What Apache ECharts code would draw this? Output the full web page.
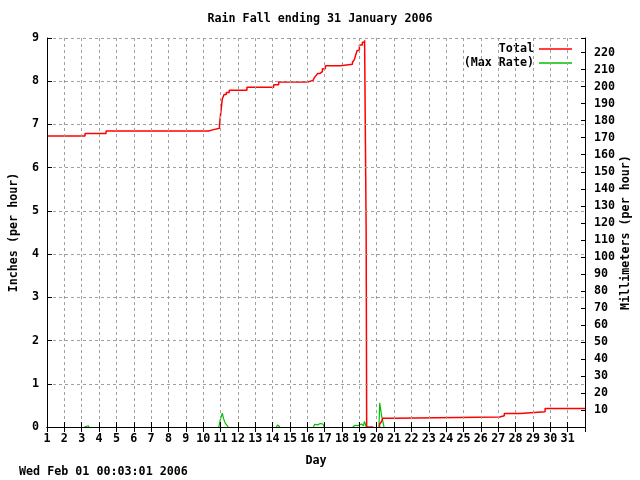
<!DOCTYPE html>
<html>
<head>
<meta charset="utf-8">
<script src="https://cdn.jsdelivr.net/npm/echarts@6/dist/echarts.min.js"></script>
<style>html,body{margin:0;padding:0;background:#fff}#c{width:640px;height:480px}</style>
</head>
<body>
<div id="c"></div>
<script>
// Rain total (inches), step changes at given day; null = gap (zero, hidden under axis)
const totalDays = [1, 3.19, 4.4, 10.31, 10.6, 10.94, 10.98, 11.05, 11.1, 11.2, 11.33, 11.5, 12.52, 14.06, 14.35, 16.02, 16.33, 16.4, 16.5, 16.6, 16.73, 16.87, 17.04, 17.9, 18.6, 18.71, 18.79, 18.87, 19.0, 19.17, 19.3, 19.39, 19.42, 19.8, 20.16, 20.17, 20.27, 20.35, 20.98, 27.08, 27.35, 28.25, 29.7, 32];
const totalInches = [6.73, 6.79, 6.85, 6.88, 6.91, 7.0, 7.15, 7.4, 7.59, 7.69, 7.74, 7.79, 7.86, 7.92, 7.98, 8.02, 8.05, 8.08, 8.13, 8.18, 8.22, 8.29, 8.36, 8.39, 8.44, 8.5, 8.61, 8.71, 8.84, 8.9, 8.95, 4.5, 0, null, 0, 0.07, 0.12, 0.2, 0.23, 0.26, 0.31, 0.35, 0.43, 0.43];
// Max rate (inches per hour); null = no rain (gap)
const rateDays = [3.15, 3.22, 3.38, 3.42, 5, 10.9, 10.98, 11.1, 11.17, 11.27, 11.38, 11.45, 12, 14.22, 14.29, 14.38, 14.42, 15, 16.35, 16.42, 16.6, 16.7, 16.75, 16.82, 16.9, 16.96, 16.98, 18, 18.62, 18.67, 18.75, 18.83, 18.9, 19.0, 19.12, 19.16, 19.24, 19.29, 19.38, 19.4, 19.8, 20.13, 20.17, 20.25, 20.28, 20.38, 20.42];
const rateInches = [0, 0.03, 0.03, 0, null, 0, 0.16, 0.32, 0.2, 0.09, 0.03, 0, null, 0, 0.05, 0.03, 0, null, 0, 0.06, 0.05, 0.05, 0.08, 0.05, 0.07, 0.07, 0, null, 0, 0.04, 0.04, 0.07, 0.03, 0.06, 0.07, 0.03, 0.03, 0.13, 0.13, 0, null, 0, 0.56, 0.55, 0.26, 0.26, 0];
const dayTicks = [1,2,3,4,5,6,7,8,9,10,11,12,13,14,15,16,17,18,19,20,21,22,23,24,25,26,27,28,29,30,31];
const inchTicks = [0,1,2,3,4,5,6,7,8,9];
const mmTicks = [10,20,30,40,50,60,70,80,90,100,110,120,130,140,150,160,170,180,190,200,210,220];

const F = 'DejaVu Sans Mono';
const txt = {fontFamily: F, fontWeight: 'bold', fontSize: 11.7, color: '#000'};
const grid = {color: '#a0a0a0', type: [3, 3], width: 1};

const chart = echarts.init(document.getElementById('c'), null, {renderer: 'canvas'});
chart.setOption({
  animation: false,
  backgroundColor: '#fff',
  title: {text: 'Rain Fall ending 31 January 2006', left: 'center', top: 8, textStyle: Object.assign({}, txt)},
  grid: {left: 47, right: 55, top: 38, bottom: 53, containLabel: false, outerBoundsMode: 'none'},
  legend: [
    {data: ['Total'], right: 68, top: 43, orient: 'vertical', align: 'right', icon: 'rect', itemWidth: 33, itemHeight: 1.5, selectedMode: false, padding: 0, textStyle: Object.assign({}, txt)},
    {data: ['(Max Rate)'], right: 68, top: 57, orient: 'vertical', align: 'right', icon: 'rect', itemWidth: 33, itemHeight: 1.5, selectedMode: false, padding: 0, textStyle: Object.assign({}, txt)}
  ],
  xAxis: [
    {type: 'value', min: 1, max: 32, interval: 1, z: 5,
     name: 'Day', nameLocation: 'middle', nameGap: 28, nameTextStyle: Object.assign({}, txt),
     axisLine: {lineStyle: {color: '#000', width: 1}},
     axisTick: {inside: true, length: 5, lineStyle: {color: '#000'}},
     axisLabel: Object.assign({margin: 6, formatter: v => dayTicks.includes(v) ? String(v) : ''}, txt),
     splitLine: {show: true, lineStyle: grid}},
    {type: 'value', position: 'top', min: 1, max: 32, interval: 1, z: 5,
     axisLine: {lineStyle: {color: '#000', width: 1}},
     axisTick: {inside: true, length: 5, lineStyle: {color: '#000'}},
     axisLabel: {show: false}, splitLine: {show: false}}
  ],
  yAxis: [
    {type: 'value', min: 0, max: 9, interval: 1, z: 5,
     name: 'Inches (per hour)', nameLocation: 'middle', nameGap: 27, nameRotate: 90, nameTextStyle: Object.assign({}, txt),
     axisLine: {show: true, lineStyle: {color: '#000', width: 1}},
     axisTick: {show: true, inside: true, length: 5, lineStyle: {color: '#000'}},
     axisLabel: Object.assign({margin: 8, formatter: v => inchTicks.includes(v) ? String(v) : ''}, txt),
     splitLine: {show: true, lineStyle: grid}},
    {type: 'value', position: 'right', min: 0, max: 228.6, interval: 10, z: 5,
     name: 'Millimeters (per hour)', nameLocation: 'middle', nameGap: 35, nameRotate: 90, nameMoveOverlap: false, nameTextStyle: Object.assign({}, txt),
     axisLine: {show: true, lineStyle: {color: '#000', width: 1}},
     axisTick: {show: true, inside: true, length: 4, lineStyle: {color: '#000'}},
     axisLabel: Object.assign({margin: 9, formatter: v => mmTicks.includes(v) ? String(v) : ''}, txt),
     splitLine: {show: false}}
  ],
  series: [
    {name: 'Total', type: 'line', step: 'end', showSymbol: false, symbol: 'none', z: 3, connectNulls: false,
     xAxisIndex: 0, yAxisIndex: 0, color: '#ff0000',
     lineStyle: {color: '#ff0000', width: 1.5},
     data: totalDays.map((d, i) => [d, totalInches[i] === null ? '-' : totalInches[i]])},
    {name: '(Max Rate)', type: 'line', showSymbol: false, symbol: 'none', z: 2, connectNulls: false,
     xAxisIndex: 0, yAxisIndex: 0, color: '#00c000',
     lineStyle: {color: '#00c000', width: 1.2},
     data: rateDays.map((d, i) => [d, rateInches[i] === null ? '-' : rateInches[i]])}
  ],
  graphic: [
    {type: 'text', left: 19, top: 466, style: {text: 'Wed Feb 01 00:03:01 2006', font: 'bold 11.7px "DejaVu Sans Mono"', fill: '#000'}}
  ]
});
</script>
</body>
</html>
